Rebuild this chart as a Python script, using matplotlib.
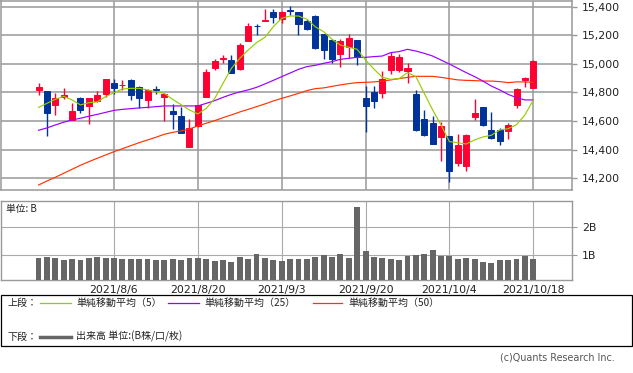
import matplotlib
matplotlib.use('Agg')
import matplotlib.pyplot as plt
from matplotlib.lines import Line2D
from matplotlib.patches import Rectangle
from matplotlib.ticker import FuncFormatter

# ---------------- data ----------------
opens = [14820, 14811, 14715, 14766, 14610, 14762, 14708, 14738, 14792, 14864,
         14851, 14888, 14836, 14750, 14823, 14771, 14671, 14636, 14421, 14566,
         14771, 14971, 15035, 15027, 14964, 15163, 15266, 15302, 15361, 15312,
         15375, 15361, 15300, 15335, 15209, 15167, 15067, 15118, 15167, 14762,
         14804, 14799, 14960, 14960, 14953, 14790, 14615, 14587, 14491, 14498,
         14309, 14288, 14631, 14699, 14538, 14538, 14533, 14715, 14888, 14832]
highs = [14867, 14811, 14799, 14832, 14729, 14766, 14762, 14811, 14894, 14894,
         14885, 14894, 14843, 14822, 14848, 14799, 14717, 14701, 14615, 14713,
         14964, 15037, 15060, 15062, 15146, 15286, 15277, 15384, 15384, 15370,
         15405, 15361, 15314, 15344, 15209, 15174, 15174, 15209, 15167, 14845,
         14845, 14953, 15081, 15069, 15006, 14818, 14678, 14636, 14594, 14498,
         14512, 14512, 14755, 14699, 14664, 14549, 14587, 14832, 14908, 15027]
lows = [14785, 14498, 14643, 14755, 14605, 14657, 14580, 14734, 14769, 14792,
        14815, 14750, 14689, 14694, 14792, 14601, 14547, 14515, 14421, 14561,
        14771, 14960, 15006, 14939, 14960, 15163, 15200, 15300, 15284, 15284,
        15342, 15204, 15239, 15107, 15032, 15006, 14981, 15044, 14995, 14526,
        14694, 14764, 14932, 14944, 14866, 14533, 14494, 14442, 14323, 14176,
        14284, 14253, 14610, 14566, 14477, 14435, 14473, 14694, 14838, 14832]
closes = [14839, 14659, 14764, 14783, 14671, 14680, 14762, 14783, 14894, 14834,
          14855, 14785, 14764, 14815, 14820, 14792, 14652, 14519, 14549, 14713,
          14943, 15020, 15039, 14939, 15132, 15265, 15262, 15305, 15330, 15361,
          15372, 15281, 15246, 15113, 15100, 15037, 15160, 15181, 15051, 14708,
          14743, 14894, 15055, 15048, 14971, 14540, 14503, 14442, 14566, 14253,
          14433, 14503, 14657, 14573, 14484, 14463, 14570, 14827, 14901, 15020]

ma5 = [14696, 14724, 14752, 14773, 14748, 14713, 14729, 14734, 14771, 14799,
       14824, 14829, 14829, 14818, 14804, 14794, 14752, 14715, 14678, 14650,
       14689, 14757, 14864, 14969, 15039, 15097, 15149, 15186, 15260, 15319,
       15335, 15335, 15312, 15260, 15225, 15172, 15132, 15116, 15102, 15027,
       14964, 14906, 14892, 14897, 14939, 14911, 14794, 14678, 14573, 14456,
       14449, 14440, 14468, 14489, 14501, 14538, 14547, 14575, 14643, 14748]
ma25 = [14536, 14552, 14573, 14592, 14608, 14620, 14634, 14647, 14661, 14675,
        14682, 14687, 14692, 14696, 14701, 14706, 14706, 14706, 14706, 14706,
        14724, 14743, 14766, 14787, 14804, 14818, 14836, 14860, 14885, 14911,
        14936, 14962, 14981, 14990, 15004, 15016, 15032, 15039, 15046, 15046,
        15051, 15055, 15079, 15086, 15102, 15090, 15074, 15055, 15027, 14999,
        14969, 14939, 14911, 14880, 14845, 14818, 14787, 14764, 14748, 14748]
ma50 = [14153, 14181, 14207, 14235, 14263, 14291, 14316, 14340, 14363, 14386,
        14407, 14428, 14449, 14468, 14487, 14508, 14521, 14531, 14545, 14566,
        14585, 14603, 14624, 14643, 14664, 14682, 14701, 14720, 14741, 14759,
        14776, 14794, 14813, 14827, 14832, 14843, 14853, 14862, 14869, 14871,
        14874, 14880, 14888, 14897, 14906, 14913, 14913, 14913, 14906, 14897,
        14888, 14885, 14883, 14880, 14880, 14876, 14869, 14874, 14874, 14871]

volume = [0.89, 0.93, 0.89, 0.82, 0.86, 0.82, 0.89, 0.93, 0.89, 0.89,
          0.86, 0.86, 0.86, 0.86, 0.82, 0.82, 0.86, 0.82, 0.89, 0.89,
          0.86, 0.78, 0.82, 0.75, 0.93, 0.86, 1.02, 0.89, 0.82, 0.78,
          0.86, 0.86, 0.86, 0.93, 1.00, 0.93, 1.02, 0.89, 2.73, 1.14,
          0.93, 0.89, 0.86, 0.82, 0.96, 1.01, 1.02, 1.18, 0.96, 0.96,
          0.86, 0.89, 0.86, 0.75, 0.71, 0.82, 0.82, 0.86, 0.96, 0.86]

date_ticks = [9, 19, 29, 39, 49, 59]
date_labels = ['2021/8/6', '2021/8/20', '2021/9/3', '2021/9/20', '2021/10/4', '2021/10/18']
price_ticks = [14200, 14400, 14600, 14800, 15000, 15200, 15400]
vol_ticks = [1, 2]
vol_labels = ['1B', '2B']

legend_labels = ['単純移動平均（5）', '単純移動平均（25）', '単純移動平均（50）']

# ---------------- style ----------------
W, H = 633, 373
UP = '#ff0033'
DOWN = '#003399'
C5, C25, C50 = '#99cc00', '#9900ff', '#ff3300'
VOLC = '#666666'
GRID = '#999999'
TXT = '#222222'
JP = ['Noto Sans CJK JP', 'DejaVu Sans']

def fx(x):
    return x / W

def fy(y):
    return 1 - y / H

fig = plt.figure(figsize=(W / 100, H / 100), dpi=100)

xl = (-4.51, 63.58)
n = len(closes)
idx = list(range(n))

# ---------------- main price panel ----------------
ax = fig.add_axes([fx(0.7), fy(190.3), (571.7 - 0.7) / W, (190.3 - 0.7) / H])
ax.set_xlim(*xl)
ax.set_ylim(14116, 15442)
ax.set_axisbelow(True)
ax.set_xticks(date_ticks)
ax.set_yticks(price_ticks)
ax.grid(True, color=GRID, lw=1.1)
ax.yaxis.tick_right()
ax.yaxis.set_major_formatter(FuncFormatter(lambda v, p: f'{int(v):,}'))
ax.tick_params(axis='y', length=3.6, width=1.0, color=GRID, pad=3.6,
               labelsize=7.8, labelcolor=TXT)
ax.tick_params(axis='x', length=0, labelbottom=False)
for s in ax.spines.values():
    s.set_color(GRID)
    s.set_linewidth(1.1)

cols = [UP if c >= o else DOWN for o, c in zip(opens, closes)]
ax.vlines(idx, lows, highs, colors=cols, lw=1.0, zorder=3)
bottoms = [min(o, c) for o, c in zip(opens, closes)]
heights = [abs(c - o) for o, c in zip(opens, closes)]
ax.bar(idx, heights, bottom=bottoms, width=0.72, color=cols, edgecolor=cols,
       linewidth=0.7, zorder=3)

ax.plot(idx, ma50, color=C50, lw=0.85, zorder=4)
ax.plot(idx, ma25, color=C25, lw=0.85, zorder=4)
ax.plot(idx, ma5, color=C5, lw=0.85, zorder=4)

# ---------------- volume panel ----------------
av = fig.add_axes([fx(0.7), fy(280.3), (571.7 - 0.7) / W, (280.3 - 201) / H])
av.set_xlim(*xl)
av.set_ylim(0.087, 2.95)
av.set_axisbelow(True)
av.bar(idx, volume, width=0.7, color=VOLC, zorder=3)
av.set_xticks(date_ticks)
av.set_xticklabels(date_labels)
av.set_yticks(vol_ticks)
av.set_yticklabels(vol_labels)
av.yaxis.tick_right()
av.grid(True, color='#aaaaaa', lw=0.8)
av.tick_params(axis='x', length=0, pad=3.2, labelsize=7.8, labelcolor=TXT)
av.tick_params(axis='y', length=3.6, width=0.8, color=GRID, pad=3.6,
               labelsize=7.8, labelcolor=TXT)
for s in av.spines.values():
    s.set_color(GRID)
    s.set_linewidth(1.0)
av.text(0.009, 0.9, '単位: B', transform=av.transAxes, fontsize=7.0,
        family=JP, color=TXT, va='center', ha='left')

# ---------------- legend box ----------------
fig.patches.append(Rectangle((fx(0.5), fy(346)), (632 - 0.5) / W, (346 - 295.3) / H,
                             transform=fig.transFigure, fill=False,
                             edgecolor='black', lw=0.9))
r1, r2 = 303.3, 336.7
fig.text(fx(8), fy(r1), '上段：', fontsize=7.2, family=JP, color=TXT, va='center', ha='left')
fig.text(fx(8), fy(r2), '下段：', fontsize=7.2, family=JP, color=TXT, va='center', ha='left')
for (x0, x1, tx), c, lab in zip([(40, 70.7, 76), (168, 199, 204), (313, 342, 348)],
                                [C5, C25, C50], legend_labels):
    fig.lines.append(Line2D([fx(x0), fx(x1)], [fy(r1), fy(r1)], color=c, lw=0.9,
                            transform=fig.transFigure))
    fig.text(fx(tx), fy(r1), lab, fontsize=7.2, family=JP, color=TXT,
             va='center', ha='left')
fig.lines.append(Line2D([fx(40), fx(70.7)], [fy(r2), fy(r2)], color=VOLC, lw=2.5,
                        transform=fig.transFigure))
fig.text(fx(76), fy(r2), '出来高 単位:(B株/口/枚)', fontsize=7.2, family=JP,
         color=TXT, va='center', ha='left')

fig.text(fx(615), fy(357.5), '(c)Quants Research Inc.', fontsize=6.9,
         color='#555555', va='center', ha='right')

fig.savefig('out.png', dpi=100)
